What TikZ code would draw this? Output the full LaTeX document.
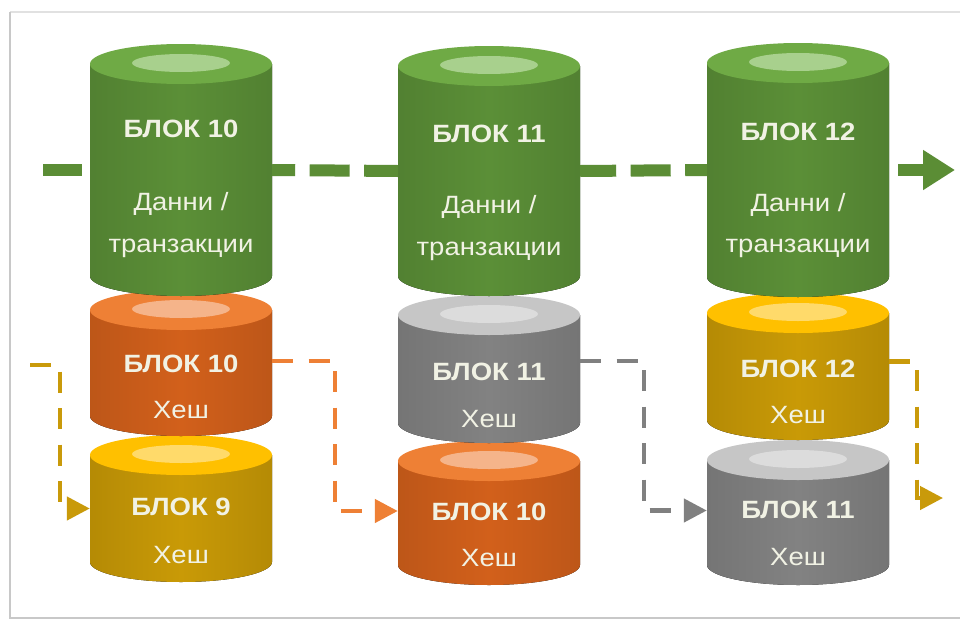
\documentclass[tikz,border=0pt]{standalone}
\usepackage{fontspec}
\setmainfont{Liberation Sans}
\usetikzlibrary{arrows.meta}
\definecolor{gnside}{HTML}{5B8F37}
\definecolor{gntop}{HTML}{6FAA45}
\definecolor{gnhl}{HTML}{A8D08D}
\definecolor{orside}{HTML}{D2601B}
\definecolor{ortop}{HTML}{EE8035}
\definecolor{orhl}{HTML}{F5B48A}
\definecolor{ylside}{HTML}{C99A06}
\definecolor{yltop}{HTML}{FFC000}
\definecolor{ylhl}{HTML}{FFDA6A}
\definecolor{grside}{HTML}{828282}
\definecolor{grtop}{HTML}{C6C6C6}
\definecolor{grhl}{HTML}{DCDCDC}
\definecolor{txtc}{HTML}{F1F2E4}
\definecolor{chainc}{HTML}{5B8D35}
\definecolor{ylink}{HTML}{C99A0A}
\definecolor{orlink}{HTML}{EE8035}
\definecolor{grlink}{HTML}{808080}
\definecolor{framec}{HTML}{C8C8C8}

\newcommand\stretchtxt[1]{\scalebox{1.1}[1]{#1}}
% name, cx, ytop, ybot, colour prefix
\newcommand\drum[5]{%
  \fill[left color=#5side!90!black, right color=#5side!90!black, middle color=#5side]
    ({#2-91},#3) -- ({#2-91},#4) arc[start angle=180, end angle=360, x radius=91pt, y radius=20pt]
    -- ({#2+91},#3) -- cycle;
  \fill[#5top] (#2,#3) ellipse[x radius=91pt, y radius=20pt];
  \fill[#5hl] (#2,{#3-1}) ellipse[x radius=49pt, y radius=9pt];
  \node[bodybox] (#1) at (#2,{(#3+#4)/2}) {};
}

\tikzset{
  bodybox/.style={inner sep=0pt, minimum width=182pt, minimum height=10pt},
  ttl/.style={anchor=base, inner sep=0pt, text=txtc, font=\bfseries\fontsize{25}{30}\selectfont},
  txt/.style={anchor=base, inner sep=0pt, text=txtc, font=\fontsize{25}{30}\selectfont},
  chainline/.style={draw=chainc, line width=12pt},
  hashlink/.style={draw=#1, line width=4.5pt, dash pattern=on 21pt off 15.5pt,
    -{Triangle[length=23pt, width=23pt, fill=#1]}},
}

\begin{document}
\begin{tikzpicture}[x=1pt, y=-1pt]
\useasboundingbox (0,0) rectangle (960,621);
\fill[white] (0,0) rectangle (960,621);
% frame
\draw[framec!55, line width=1.2pt] (960,12) -- (10,12);
\draw[framec, line width=1.6pt] (10,12) -- (10,618) -- (960,618);

% column 1
\drum{y1}{181}{455}{562}{yl}
\drum{o1}{181}{310}{416}{or}
\drum{g1}{181}{64}{276}{gn}
% column 2
\drum{o2}{489}{461}{565}{or}
\drum{s2}{489}{315}{423}{gr}
\drum{g2}{489}{66}{276}{gn}
% column 3
\drum{s3}{798}{460}{565}{gr}
\drum{y3}{798}{313}{420}{yl}
\drum{g3}{798}{63}{277}{gn}

% texts column 1
\node[ttl] (g1t) at (181,137) {\stretchtxt{БЛОК 10}};
\node[txt] (g1d) at (181,210) {\stretchtxt{Данни /}};
\node[txt] (g1x) at (181,252) {\stretchtxt{транзакции}};
\node[ttl] (o1t) at (181,372) {\stretchtxt{БЛОК 10}};
\node[txt] (o1h) at (181,418) {\stretchtxt{Хеш}};
\node[ttl] (y1t) at (181,515) {\stretchtxt{БЛОК 9}};
\node[txt] (y1h) at (181,563) {\stretchtxt{Хеш}};
% texts column 2
\node[ttl] (g2t) at (489,142) {\stretchtxt{БЛОК 11}};
\node[txt] (g2d) at (489,213) {\stretchtxt{Данни /}};
\node[txt] (g2x) at (489,255) {\stretchtxt{транзакции}};
\node[ttl] (s2t) at (489,380) {\stretchtxt{БЛОК 11}};
\node[txt] (s2h) at (489,427) {\stretchtxt{Хеш}};
\node[ttl] (o2t) at (489,520) {\stretchtxt{БЛОК 10}};
\node[txt] (o2h) at (489,566) {\stretchtxt{Хеш}};
% texts column 3
\node[ttl] (g3t) at (798,140) {\stretchtxt{БЛОК 12}};
\node[txt] (g3d) at (798,211) {\stretchtxt{Данни /}};
\node[txt] (g3x) at (798,252) {\stretchtxt{транзакции}};
\node[ttl] (y3t) at (798,377) {\stretchtxt{БЛОК 12}};
\node[txt] (y3h) at (798,423) {\stretchtxt{Хеш}};
\node[ttl] (s3t) at (798,518) {\stretchtxt{БЛОК 11}};
\node[txt] (s3h) at (798,565) {\stretchtxt{Хеш}};

% green chain (all body centres at y = 170)
\coordinate (chainin) at (43,170);
\coordinate (chainout) at (955,170);
\draw[chainline, dash pattern=on 39pt off 20pt] (chainin) -- (g1.west);
\draw[chainline, dash pattern=on 40pt off 14.5pt, dash phase=17pt] (g1.east) -- (g2.west);
\draw[chainline, dash pattern=on 40pt off 14.5pt, dash phase=4pt] (g2.east) -- (g3.west);
\draw[chainline, shorten <=9pt, -{Triangle[length=32pt, width=38pt]}] (g3.east) -- (chainout);

% hash links
\coordinate (hashin) at (30,365);
\coordinate (hashout) at (943,498);
\draw[hashlink=ylink] (hashin) -- ++(30,0) |- (y1.west);
\draw[hashlink=orlink] ([yshift=2pt]o1.east) -- ++(63,0) |- ([yshift=2pt]o2.west);
\draw[hashlink=grlink] ([yshift=8pt]s2.east) -- ++(64,0) |- ([yshift=2pt]s3.west);
\draw[hashlink=ylink] ([yshift=5pt]y3.east) -- ++(28,0) |- (hashout);
\end{tikzpicture}
\end{document}
